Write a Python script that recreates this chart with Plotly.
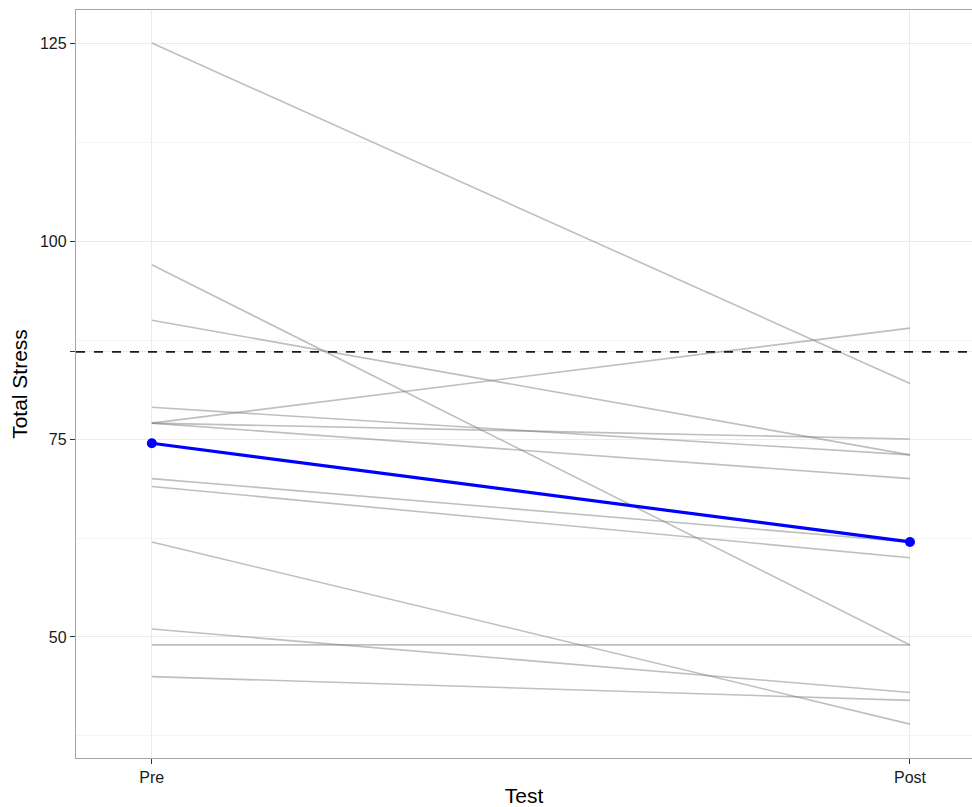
import plotly.graph_objects as go

tests = ["Pre", "Post"]
pre_scores = [125, 97, 90, 79, 77, 77, 77, 70, 69, 62, 51, 49, 45]
post_scores = [82, 49, 73, 73, 89, 75, 70, 62, 60, 39, 43, 49, 42]
cutoff = 86
y_ticks = [50, 75, 100, 125]

mean_pre = sum(pre_scores) / len(pre_scores)
mean_post = sum(post_scores) / len(post_scores)

fig = go.Figure()
for a, b in zip(pre_scores, post_scores):
    fig.add_trace(go.Scatter(
        x=tests, y=[a, b], mode="lines",
        line=dict(color="rgba(128,128,128,0.5)", width=1.6),
        hoverinfo="skip", showlegend=False))

fig.add_trace(go.Scatter(
    x=tests, y=[mean_pre, mean_post], mode="lines+markers",
    line=dict(color="#0000ff", width=3.2),
    marker=dict(color="#0000ff", size=10),
    showlegend=False))

fig.add_shape(type="line", xref="paper", yref="y", x0=0, x1=1, y0=cutoff, y1=cutoff,
              line=dict(color="#1a1a1a", width=1.6, dash="dash"))

tick_vals = sorted(y_ticks + [cutoff])
tick_text = [str(v) if v in y_ticks else "" for v in tick_vals]

fig.update_layout(
    width=972, height=807,
    margin=dict(l=76, r=0, t=10, b=49),
    paper_bgcolor="white", plot_bgcolor="white",
    font=dict(family="Liberation Sans, Arial, sans-serif", size=16, color="#4d4d4d"),
)
fig.update_xaxes(
    type="category", range=[-0.1, 1.0818], automargin=False,
    showline=True, linecolor="#a6a6a6", linewidth=1.3, mirror=True,
    showgrid=True, gridcolor="#ebebeb", gridwidth=1,
    ticks="outside", ticklen=5, tickcolor="#333333", tickwidth=1,
    tickfont=dict(size=16, color="#1a1a1a"),
    title=dict(text="Test", font=dict(size=21, color="black"), standoff=3),
    zeroline=False,
)
fig.update_yaxes(
    range=[34.72, 129.17], automargin=False,
    tickvals=tick_vals, ticktext=tick_text,
    showline=True, linecolor="#a6a6a6", linewidth=1.3, mirror=False,
    showgrid=True, gridcolor="#ebebeb", gridwidth=1,
    minor=dict(tickvals=[37.5, 62.5, 87.5, 112.5], showgrid=True, gridcolor="#f4f4f4", gridwidth=1, ticks=""),
    ticks="outside", ticklen=5, tickcolor="#333333", tickwidth=1,
    tickfont=dict(size=16, color="#1a1a1a"),
    title=dict(text="Total Stress", font=dict(size=21, color="black"), standoff=6),
    zeroline=False,
)

fig.write_html(
    "out.html",
    config={"displayModeBar": False},
    post_script="document.body.style.margin='0';document.body.style.overflow='hidden';",
)
